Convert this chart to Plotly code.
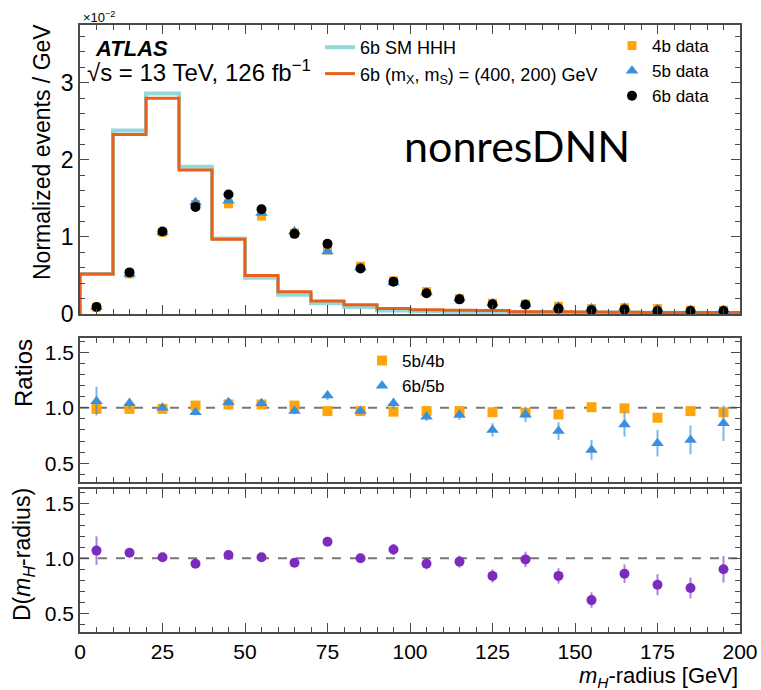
import plotly.graph_objects as go

# ---------------- data ----------------
bin_edges = [0, 10, 20, 30, 40, 50, 60, 70, 80, 90, 100, 110, 120, 130, 140, 150, 160, 170, 180, 190, 200]
bin_centers = [5, 15, 25, 35, 45, 55, 65, 75, 85, 95, 105, 115, 125, 135, 145, 155, 165, 175, 185, 195]

# normalized events / GeV (x 10^-2)
sm_hhh = [0.52, 2.38, 2.86, 1.91, 0.98, 0.47, 0.25, 0.14, 0.09, 0.045, 0.035, 0.03, 0.028, 0.025, 0.022, 0.02, 0.018, 0.016, 0.015, 0.014]
res_400_200 = [0.52, 2.33, 2.80, 1.87, 0.97, 0.50, 0.29, 0.17, 0.12, 0.07, 0.055, 0.05, 0.045, 0.03, 0.028, 0.025, 0.022, 0.02, 0.02, 0.018]

data_4b = [0.09, 0.52, 1.06, 1.42, 1.43, 1.27, 1.05, 0.83, 0.62, 0.43, 0.29, 0.20, 0.14, 0.13, 0.10, 0.07, 0.08, 0.07, 0.05, 0.05]
data_5b = [0.09, 0.52, 1.06, 1.45, 1.47, 1.31, 1.07, 0.81, 0.60, 0.41, 0.28, 0.20, 0.135, 0.125, 0.095, 0.075, 0.08, 0.065, 0.05, 0.05]
data_6b = [0.09, 0.54, 1.07, 1.39, 1.55, 1.36, 1.04, 0.91, 0.59, 0.42, 0.27, 0.19, 0.125, 0.12, 0.07, 0.05, 0.06, 0.04, 0.04, 0.04]

ratio_5b_4b = [0.99, 0.99, 0.99, 1.02, 1.03, 1.03, 1.02, 0.97, 0.97, 0.965, 0.97, 0.97, 0.96, 0.955, 0.94, 1.005, 0.995, 0.91, 0.97, 0.96]
ratio_5b_4b_err = [0.02, 0.01, 0.01, 0.01, 0.01, 0.01, 0.01, 0.01, 0.01, 0.015, 0.015, 0.02, 0.02, 0.02, 0.02, 0.025, 0.025, 0.03, 0.03, 0.03]
ratio_6b_5b = [1.06, 1.04, 1.00, 0.96, 1.05, 1.04, 0.97, 1.11, 0.97, 1.04, 0.92, 0.935, 0.80, 0.94, 0.79, 0.62, 0.85, 0.68, 0.71, 0.86]
ratio_6b_5b_err = [0.13, 0.05, 0.03, 0.03, 0.03, 0.03, 0.03, 0.04, 0.03, 0.05, 0.04, 0.045, 0.06, 0.07, 0.08, 0.09, 0.11, 0.12, 0.13, 0.16]

d_mh = [1.07, 1.05, 1.01, 0.95, 1.03, 1.01, 0.96, 1.15, 1.00, 1.08, 0.95, 0.97, 0.84, 0.99, 0.84, 0.62, 0.86, 0.76, 0.73, 0.90]
d_mh_err = [0.13, 0.04, 0.02, 0.02, 0.02, 0.02, 0.02, 0.03, 0.03, 0.05, 0.05, 0.055, 0.06, 0.07, 0.07, 0.07, 0.085, 0.095, 0.095, 0.12]

x_ticks = [0, 25, 50, 75, 100, 125, 150, 175, 200]

# ---------------- style ----------------
FONT = "Liberation Sans, Arial, sans-serif"
W, H = 761, 690
ORANGE = "#FFA50A"
BLUE = "#3C8FDD"
PURPLE = "#7B2CBF"
HIST_OR = "#E8601C"
HIST_CY = "#92DADA"
FRAME = "#4a4a4a"


def px_x(p):
    return p / W


def px_y(p):
    return 1 - p / H


def step(vals):
    xs = [bin_edges[0]] + list(bin_edges) + [bin_edges[-1]]
    ys = [0] + list(vals) + [vals[-1], 0]
    return xs, ys


fig = go.Figure()

# ---- top panel ----
xs, ys = step(sm_hhh)
fig.add_trace(go.Scatter(x=xs, y=ys, mode="lines", line=dict(shape="hv", color=HIST_CY, width=4),
                         name="6b SM HHH", legend="legend", xaxis="x", yaxis="y"))
xs, ys = step(res_400_200)
fig.add_trace(go.Scatter(x=xs, y=ys, mode="lines", line=dict(shape="hv", color=HIST_OR, width=3),
                         name="6b (m<sub>X</sub>, m<sub>S</sub>) = (400, 200) GeV", legend="legend",
                         xaxis="x", yaxis="y"))

fig.add_trace(go.Scatter(x=bin_centers, y=data_4b, mode="markers",
                         marker=dict(symbol="square", size=9, color=ORANGE),
                         name="4b data", legend="legend2", xaxis="x", yaxis="y"))
fig.add_trace(go.Scatter(x=bin_centers, y=data_5b, mode="markers",
                         marker=dict(symbol="triangle-up", size=11, color=BLUE),
                         name="5b data", legend="legend2", xaxis="x", yaxis="y"))
fig.add_trace(go.Scatter(x=bin_centers, y=data_6b, mode="markers",
                         marker=dict(symbol="circle", size=10, color="black"),
                         name="6b data", legend="legend2", xaxis="x", yaxis="y"))

# ---- ratio panel ----
fig.add_trace(go.Scatter(x=[bin_edges[0], bin_edges[-1]], y=[1, 1], mode="lines",
                         line=dict(color="#777777", width=2, dash="dash"), showlegend=False,
                         xaxis="x2", yaxis="y2", hoverinfo="skip"))
fig.add_trace(go.Scatter(x=bin_centers, y=ratio_5b_4b, mode="markers",
                         error_y=dict(type="data", array=ratio_5b_4b_err, color="rgba(255,165,10,0.7)",
                                      thickness=2, width=0),
                         marker=dict(symbol="square", size=10, color=ORANGE),
                         name="5b/4b", legend="legend3", xaxis="x2", yaxis="y2"))
fig.add_trace(go.Scatter(x=bin_centers, y=ratio_6b_5b, mode="markers",
                         error_y=dict(type="data", array=ratio_6b_5b_err, color="rgba(60,143,221,0.65)",
                                      thickness=2, width=0),
                         marker=dict(symbol="triangle-up", size=11, color=BLUE),
                         name="6b/5b", legend="legend3", xaxis="x2", yaxis="y2"))

# ---- D panel ----
fig.add_trace(go.Scatter(x=[bin_edges[0], bin_edges[-1]], y=[1, 1], mode="lines",
                         line=dict(color="#777777", width=2, dash="dash"), showlegend=False,
                         xaxis="x3", yaxis="y3", hoverinfo="skip"))
fig.add_trace(go.Scatter(x=bin_centers, y=d_mh, mode="markers",
                         error_y=dict(type="data", array=d_mh_err, color="rgba(123,44,191,0.6)",
                                      thickness=2, width=0),
                         marker=dict(symbol="circle", size=10, color=PURPLE),
                         showlegend=False, xaxis="x3", yaxis="y3"))

axis_common = dict(showline=True, mirror="ticks", linecolor=FRAME, linewidth=1.6,
                   ticks="inside", ticklen=9, tickwidth=1.3, tickcolor=FRAME,
                   showgrid=False, zeroline=False, automargin=False,
                   tickfont=dict(family=FONT, size=21, color="black"))

xdom = [px_x(80), px_x(740)]


def xax(anchor, labels):
    d = dict(axis_common)
    d.update(domain=xdom, range=[0, 200], anchor=anchor, tickmode="array", tickvals=x_ticks,
             showticklabels=labels,
             minor=dict(ticks="inside", ticklen=5, dtick=5, tick0=0, tickcolor=FRAME, showgrid=False))
    return d


def yax_ratio(dom, anchor):
    d = dict(axis_common)
    d.update(domain=dom, range=[0.33, 1.63], anchor=anchor, tick0=0, dtick=0.5, tickformat=".1f",
             minor=dict(ticks="inside", ticklen=5, dtick=0.1, tick0=0, tickcolor=FRAME, showgrid=False))
    return d


ytop = dict(axis_common)
ytop.update(domain=[px_y(314), px_y(25)], range=[0, 3.75], anchor="x", tick0=0, dtick=1,
            tickformat="d", tickfont=dict(family=FONT, size=23, color="black"),
            minor=dict(ticks="inside", ticklen=5, dtick=0.2, tick0=0, tickcolor=FRAME, showgrid=False))

fig.update_layout(
    width=W, height=H, autosize=False,
    margin=dict(l=0, r=0, t=0, b=0, pad=0, autoexpand=False),
    paper_bgcolor="white", plot_bgcolor="white",
    font=dict(family=FONT, color="black"),
    xaxis=xax("y", False),
    yaxis=ytop,
    xaxis2=dict(xax("y2", False), matches="x"),
    yaxis2=yax_ratio([px_y(482), px_y(338)], "x2"),
    xaxis3=dict(xax("y3", True), matches="x"),
    yaxis3=yax_ratio([px_y(632), px_y(489)], "x3"),
    legend=dict(x=px_x(320), y=px_y(29), xanchor="left", yanchor="top", bgcolor="rgba(0,0,0,0)",
                font=dict(family=FONT, size=18), itemwidth=30, tracegroupgap=0),
    legend2=dict(x=px_x(612), y=px_y(28), xanchor="left", yanchor="top", bgcolor="rgba(0,0,0,0)",
                 font=dict(family=FONT, size=17), itemwidth=30, tracegroupgap=0),
    legend3=dict(x=px_x(362), y=px_y(343), xanchor="left", yanchor="top", bgcolor="rgba(0,0,0,0)",
                 font=dict(family=FONT, size=17), itemwidth=30, tracegroupgap=0),
    showlegend=True,
)

ann = [
    dict(text="Normalized events / GeV", x=px_x(42), y=px_y(152), textangle=-90,
         font=dict(size=23)),
    dict(text="Ratios", x=px_x(23), y=px_y(373), textangle=-90, font=dict(size=24)),
    dict(text="D(<i>m</i><sub><i>H</i></sub>-radius)", x=px_x(23), y=px_y(555), textangle=-90,
         font=dict(size=23)),
    dict(text="<i>m</i><sub><i>H</i></sub>-radius [GeV]", x=px_x(740), y=px_y(677), xanchor="right",
         font=dict(size=22)),
    dict(text="×10<sup>−2</sup>", x=px_x(81), y=px_y(17), xanchor="left", font=dict(size=13)),
    dict(text="<b><i>ATLAS</i></b>", x=px_x(93), y=px_y(49), xanchor="left", font=dict(size=22)),
    dict(text="√s = 13 TeV, 126 fb<sup>−1</sup>", x=px_x(85), y=px_y(71), xanchor="left",
         font=dict(size=24)),
    dict(text="nonresDNN", x=px_x(517), y=px_y(145), font=dict(family="Lato, Carlito, sans-serif", size=43)),
]
for a in ann:
    a.setdefault("xref", "paper")
    a.setdefault("yref", "paper")
    a.setdefault("showarrow", False)
    a.setdefault("xanchor", "center")
    a.setdefault("yanchor", "middle")
    f = a["font"]
    f.setdefault("family", FONT)
    f.setdefault("color", "black")
    fig.add_annotation(**a)

fig.write_html("out.html", config={"responsive": False})
